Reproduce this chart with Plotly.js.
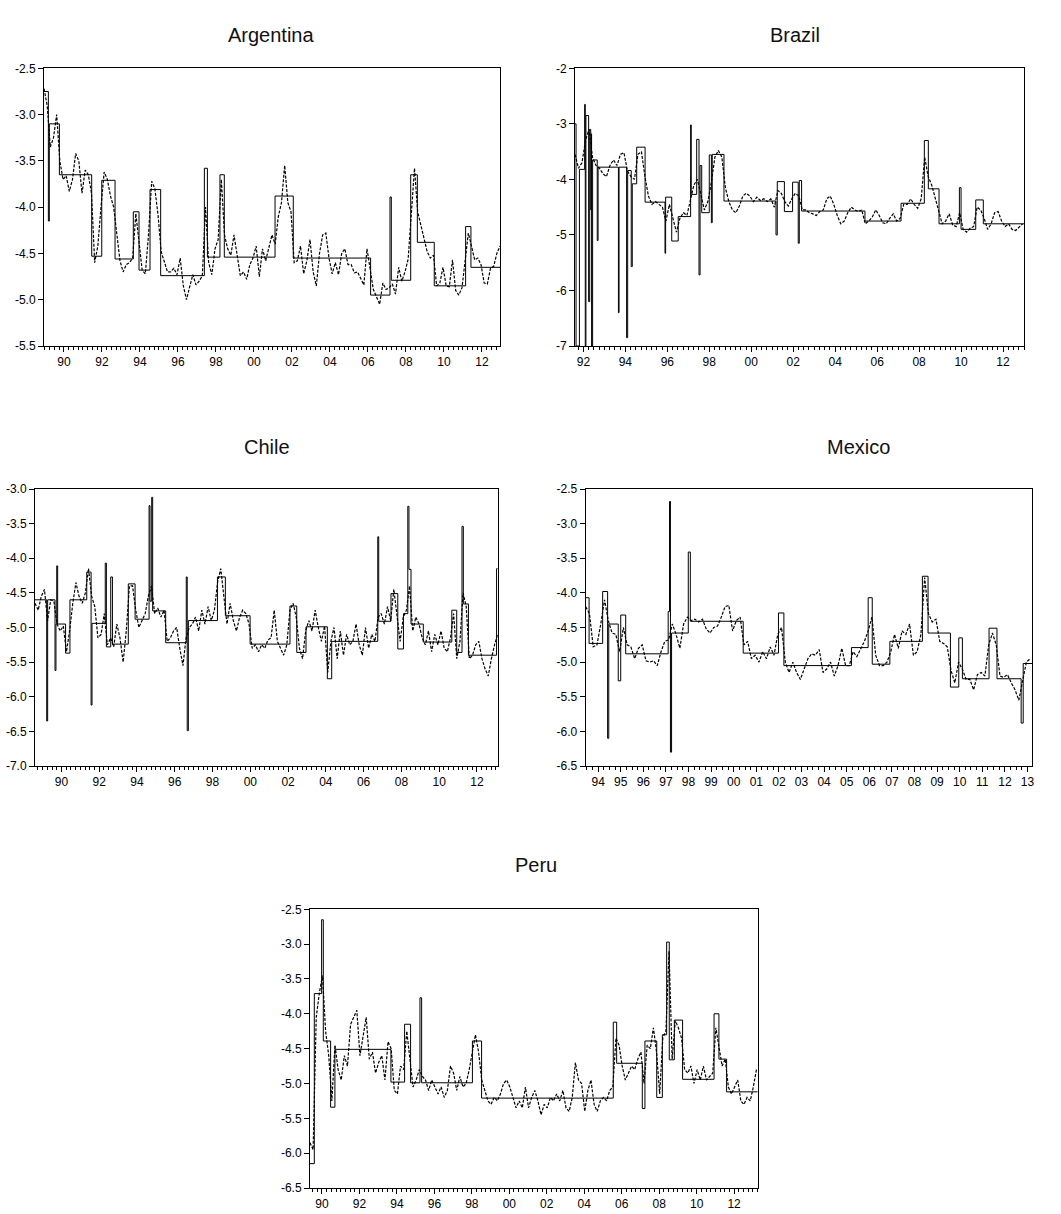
<!DOCTYPE html>
<html><head><meta charset="utf-8">
<script src="https://cdn.plot.ly/plotly-3.0.1.min.js"></script>
<style>body{margin:0;background:#fff}#chart{width:1061px;height:1214px}</style>
</head><body><div id="chart"></div>
<script>
// ---------- DATA ----------
const DATA_STEP = 1/6; // bi-monthly sampling of the observed (dashed) series, in years

// Argentina
const argStart = 1988.95;
const argVals = [-2.72,-2.90,-3.35,-3.25,-3.00,-3.50,-3.70,-3.66,-3.83,-3.70,
-3.42,-3.50,-3.85,-3.60,-3.65,-3.85,-4.60,-4.42,-4.00,-3.62,
-3.70,-3.88,-4.00,-4.30,-4.58,-4.70,-4.62,-4.60,-4.55,-4.07,
-4.35,-4.68,-4.72,-4.30,-3.72,-3.80,-4.08,-4.48,-4.59,-4.70,
-4.70,-4.66,-4.73,-4.55,-4.85,-5.00,-4.86,-4.73,-4.84,-4.80,
-4.74,-4.00,-4.60,-4.73,-4.45,-4.35,-3.70,-4.30,-4.45,-4.52,
-4.30,-4.54,-4.74,-4.70,-4.78,-4.62,-4.55,-4.42,-4.75,-4.45,
-4.58,-4.44,-4.30,-4.40,-4.10,-3.95,-3.55,-3.95,-4.05,-4.60,
-4.58,-4.42,-4.72,-4.58,-4.35,-4.70,-4.85,-4.50,-4.30,-4.28,
-4.55,-4.72,-4.60,-4.73,-4.50,-4.45,-4.62,-4.62,-4.71,-4.70,
-4.77,-4.84,-4.45,-4.70,-4.89,-4.97,-5.05,-4.82,-4.89,-4.87,
-4.83,-4.94,-4.65,-4.80,-4.70,-4.56,-4.10,-3.58,-4.05,-4.20,
-4.36,-4.48,-4.55,-4.52,-4.85,-4.82,-4.65,-4.85,-4.86,-4.57,
-4.90,-4.95,-4.87,-4.55,-4.28,-4.42,-4.57,-4.55,-4.62,-4.82,
-4.83,-4.66,-4.64,-4.50,-4.42];
const argStepX = [1988.95,1989.18,1989.23,1989.76,1991.46,1991.99,1992.69,1993.65,1993.95,1994.53,1995.09,1997.39,1997.55,1998.21,1998.44,2001.11,2002.07,2006.14,2007.16,2007.23,2008.25,2008.60,2009.49,2011.14,2011.42,2012.95];
const argStepY = [-2.75,-4.15,-3.10,-3.65,-4.53,-3.71,-4.56,-4.05,-4.68,-3.81,-4.74,-3.58,-4.54,-3.65,-4.54,-3.88,-4.55,-4.95,-3.89,-4.79,-3.65,-4.38,-4.85,-4.21,-4.65,-4.65];

// Brazil
const brStart = 1991.6;
const brVals = [-3.55,-3.80,-3.70,-3.30,-3.10,-3.60,-3.75,-3.80,-3.90,-3.95,
-3.75,-3.65,-3.75,-3.55,-3.52,-3.85,-3.95,-4.00,-3.55,-3.50,
-3.95,-4.30,-4.45,-4.40,-4.45,-4.50,-4.75,-4.45,-4.70,-4.95,
-4.70,-4.60,-4.65,-4.40,-4.10,-4.00,-4.30,-4.55,-4.40,-4.05,
-3.60,-3.48,-3.60,-4.15,-4.40,-4.55,-4.60,-4.48,-4.30,-4.25,
-4.30,-4.40,-4.32,-4.38,-4.35,-4.40,-4.35,-4.50,-4.20,-4.25,
-4.40,-4.48,-4.35,-4.25,-4.30,-4.55,-4.55,-4.60,-4.62,-4.65,
-4.58,-4.55,-4.35,-4.30,-4.45,-4.65,-4.80,-4.75,-4.60,-4.50,
-4.55,-4.58,-4.55,-4.80,-4.75,-4.68,-4.55,-4.65,-4.78,-4.80,
-4.70,-4.62,-4.75,-4.70,-4.45,-4.45,-4.35,-4.45,-4.52,-4.35,
-3.60,-3.95,-4.10,-4.35,-4.60,-4.80,-4.75,-4.62,-4.82,-4.85,
-4.60,-4.90,-4.95,-4.88,-4.85,-4.50,-4.55,-4.70,-4.90,-4.80,
-4.60,-4.58,-4.75,-4.85,-4.80,-4.90,-4.92,-4.85,-4.80];
const brStepX = [1991.60,1991.65,1991.81,1992.06,1992.09,1992.12,1992.25,1992.30,1992.35,1992.38,1992.39,1992.44,1992.66,1992.70,1993.67,1993.70,1994.06,1994.11,1994.28,1994.33,1994.54,1994.94,1995.89,1995.92,1996.21,1996.52,1997.11,1997.14,1997.40,1997.51,1997.56,1997.64,1998.00,1998.10,1998.14,1998.70,2001.18,2001.24,2001.58,2001.97,2002.24,2002.29,2002.40,2005.42,2007.14,2008.25,2008.44,2008.95,2009.92,2010.00,2010.70,2011.06,2013.00];
const brStepY = [-3.00,-7.00,-3.82,-2.65,-7.00,-2.85,-6.20,-3.10,-4.55,-3.18,-7.00,-3.65,-5.10,-3.78,-6.40,-3.78,-6.85,-3.84,-5.57,-4.08,-3.42,-4.41,-5.33,-4.32,-5.11,-4.67,-3.02,-4.27,-3.28,-5.72,-3.75,-4.60,-3.56,-4.78,-3.55,-4.39,-5.00,-4.04,-4.58,-4.05,-5.15,-4.02,-4.57,-4.75,-4.43,-3.30,-4.17,-4.80,-4.15,-4.90,-4.37,-4.80,-4.80];

// Chile
const chStart = 1988.6;
const chVals = [-4.65,-4.75,-4.55,-4.45,-4.90,-4.60,-4.62,-4.95,-5.05,-4.98,
-5.35,-5.05,-4.65,-4.35,-4.55,-4.65,-4.50,-4.15,-4.55,-4.70,
-5.15,-5.10,-4.80,-5.25,-5.15,-5.28,-4.95,-5.15,-5.50,-5.05,
-4.40,-4.40,-4.75,-5.00,-4.90,-4.80,-4.55,-4.40,-4.80,-4.72,
-4.85,-4.75,-5.20,-5.15,-5.05,-5.00,-5.30,-5.55,-5.15,-5.00,
-4.95,-4.85,-5.05,-4.75,-4.95,-4.70,-4.90,-4.75,-4.35,-4.15,
-4.55,-4.95,-4.65,-4.90,-5.05,-4.85,-4.75,-4.80,-4.95,-5.30,
-5.25,-5.35,-5.25,-5.30,-5.18,-5.15,-4.75,-5.20,-5.30,-5.40,
-5.25,-4.75,-4.65,-4.85,-5.30,-5.45,-5.05,-4.90,-5.05,-4.75,
-5.00,-5.20,-4.98,-5.65,-5.20,-5.00,-5.45,-5.05,-5.40,-5.10,
-5.25,-5.20,-4.95,-5.25,-5.40,-5.00,-5.30,-5.10,-5.20,-4.85,
-4.80,-4.95,-4.70,-4.90,-4.45,-4.85,-5.20,-4.85,-4.75,-4.40,
-5.05,-4.85,-4.95,-5.15,-5.25,-5.05,-5.35,-5.10,-5.25,-5.05,
-5.30,-5.35,-5.15,-4.80,-5.45,-5.20,-4.50,-4.70,-5.45,-5.40,
-5.25,-5.20,-5.45,-5.60,-5.70,-5.45,-5.25,-5.10];
const chStepX = [1988.60,1989.22,1989.27,1989.66,1989.71,1989.75,1989.80,1990.22,1990.45,1991.34,1991.57,1991.62,1992.32,1992.38,1992.61,1992.70,1993.54,1993.90,1994.64,1994.69,1994.78,1994.83,1995.52,1996.61,1996.66,1996.72,1998.26,1998.68,1999.99,2002.10,2002.46,2002.95,2004.08,2004.31,2006.75,2006.80,2007.45,2007.81,2008.11,2008.34,2008.40,2008.51,2009.16,2010.67,2010.93,2011.21,2011.28,2011.55,2013.04,2013.10];
const chStepY = [-4.60,-6.35,-4.60,-5.62,-4.95,-4.11,-4.95,-5.37,-4.60,-4.20,-6.12,-4.94,-4.07,-5.28,-4.27,-5.24,-4.37,-4.88,-3.24,-4.62,-3.12,-4.76,-5.22,-4.27,-6.49,-4.90,-4.27,-4.83,-5.24,-4.69,-5.36,-4.99,-5.74,-5.20,-3.69,-4.91,-4.51,-5.31,-4.80,-3.25,-4.16,-4.95,-5.21,-4.75,-5.36,-3.54,-4.66,-5.40,-4.15,-4.15];

// Mexico
const mxStart = 1993.45;
const mxVals = [-4.20,-4.30,-4.78,-4.75,-4.45,-4.10,-4.40,-4.58,-4.60,-4.85,
-4.50,-4.75,-4.78,-4.95,-4.80,-4.75,-4.98,-5.00,-4.98,-5.05,
-4.85,-4.70,-4.68,-4.45,-4.60,-4.80,-4.45,-4.35,-4.40,-4.38,
-4.42,-4.38,-4.52,-4.58,-4.50,-4.48,-4.35,-4.20,-4.18,-4.55,
-4.40,-4.35,-4.75,-4.70,-4.95,-4.90,-5.00,-4.85,-4.95,-4.78,
-4.90,-4.60,-4.50,-5.00,-5.15,-5.00,-5.15,-5.25,-5.10,-4.95,
-4.88,-4.90,-4.82,-5.15,-5.10,-5.00,-5.20,-5.05,-4.80,-5.05,
-5.05,-4.85,-4.92,-4.80,-4.70,-4.55,-4.35,-4.90,-5.05,-5.05,
-5.00,-4.85,-4.60,-4.80,-4.55,-4.60,-4.45,-4.90,-4.85,-4.60,
-3.78,-4.30,-4.42,-4.38,-4.70,-4.73,-4.78,-5.12,-5.30,-5.00,
-5.10,-5.25,-5.25,-5.40,-5.18,-5.15,-5.20,-4.75,-4.58,-4.75,
-5.20,-5.22,-5.18,-5.30,-5.40,-5.55,-5.25,-5.00,-4.95];
const mxStepX = [1993.45,1993.60,1994.20,1994.42,1994.47,1994.89,1995.00,1995.22,1997.10,1997.16,1997.20,1997.25,1997.99,1998.08,2000.42,2001.98,2002.22,2005.21,2005.95,2006.13,2006.91,2008.35,2008.60,2009.59,2009.96,2010.12,2011.30,2011.65,2012.72,2012.81,2013.20];
const mxStepY = [-4.07,-4.73,-3.98,-6.10,-4.45,-5.27,-4.32,-4.88,-4.27,-2.68,-6.30,-4.58,-3.41,-4.41,-4.87,-4.29,-5.05,-4.79,-4.07,-5.03,-4.70,-3.76,-4.58,-5.36,-4.65,-5.24,-4.51,-5.24,-5.88,-5.02,-5.02];

// Peru
const peStart = 1989.36;
const peVals = [-5.85,-5.95,-4.05,-3.70,-3.45,-4.25,-4.60,-5.25,-4.45,-4.80,
-4.95,-4.60,-4.75,-4.15,-4.05,-3.95,-4.60,-4.35,-4.05,-4.65,
-4.55,-4.85,-4.70,-4.60,-4.95,-4.40,-4.50,-5.10,-5.15,-4.75,
-4.80,-4.25,-4.70,-5.05,-4.95,-4.80,-4.90,-4.95,-5.10,-4.95,
-5.05,-5.15,-5.05,-5.20,-5.10,-4.75,-4.85,-5.10,-4.90,-5.05,
-5.00,-4.80,-4.55,-4.30,-4.55,-4.95,-5.10,-5.25,-5.30,-5.20,
-5.25,-5.15,-5.00,-4.95,-5.05,-5.20,-5.35,-5.25,-5.35,-5.05,
-5.35,-5.20,-5.10,-5.25,-5.45,-5.30,-5.35,-5.20,-5.25,-5.15,
-5.25,-5.10,-5.35,-5.40,-5.20,-4.70,-4.95,-5.00,-5.40,-5.10,
-4.95,-5.30,-5.40,-5.25,-5.20,-5.25,-5.10,-5.05,-4.35,-4.45,
-4.75,-4.95,-4.85,-4.75,-4.80,-4.65,-4.55,-5.00,-4.45,-4.50,
-4.20,-4.55,-5.15,-4.35,-4.25,-3.10,-4.65,-4.10,-4.20,-4.35,
-4.80,-4.85,-4.75,-5.00,-4.80,-4.95,-4.75,-4.95,-4.90,-4.85,
-4.20,-4.50,-4.75,-4.65,-5.05,-5.15,-5.05,-4.95,-5.25,-5.30,
-5.20,-5.25,-5.05,-4.80];
const peStepX = [1989.36,1989.59,1989.98,1990.07,1990.46,1990.69,1993.68,1994.41,1994.73,1995.23,1995.32,1998.03,1998.52,2005.55,2005.73,2007.10,2007.24,2007.87,2008.17,2008.40,2008.54,2008.81,2009.25,2010.93,2011.19,2011.60,2013.26];
const peStepY = [-6.15,-3.71,-2.65,-4.39,-5.34,-4.51,-4.98,-4.15,-4.99,-3.77,-4.99,-4.39,-5.21,-4.12,-4.71,-5.36,-4.39,-5.20,-4.30,-2.97,-4.66,-4.09,-4.94,-4.00,-4.65,-5.12,-5.12];

// Tick labels
const evenYears = [1990,1992,1994,1996,1998,2000,2002,2004,2006,2008,2010,2012];
const evenYearText = ['90','92','94','96','98','00','02','04','06','08','10','12'];
const mxYears = [1994,1995,1996,1997,1998,1999,2000,2001,2002,2003,2004,2005,2006,2007,2008,2009,2010,2011,2012,2013];
const mxYearText = ['94','95','96','97','98','99','00','01','02','03','04','05','06','07','08','09','10','11','12','13'];
const argYTicks = [-5.5,-5.0,-4.5,-4.0,-3.5,-3.0,-2.5];
const argYText = ['-5.5','-5.0','-4.5','-4.0','-3.5','-3.0','-2.5'];
const brYTicks = [-7,-6,-5,-4,-3,-2];
const brYText = ['-7','-6','-5','-4','-3','-2'];
const chYTicks = [-7.0,-6.5,-6.0,-5.5,-5.0,-4.5,-4.0,-3.5,-3.0];
const chYText = ['-7.0','-6.5','-6.0','-5.5','-5.0','-4.5','-4.0','-3.5','-3.0'];
const mxYTicks = [-6.5,-6.0,-5.5,-5.0,-4.5,-4.0,-3.5,-3.0,-2.5];
const mxYText = ['-6.5','-6.0','-5.5','-5.0','-4.5','-4.0','-3.5','-3.0','-2.5'];
const peYTicks = mxYTicks;
const peYText = mxYText;

// ---------- LAYOUT / DRAWING ----------
const W = 1061, H = 1214;
const panels = [
  {title:'Argentina', start:argStart, vals:argVals, sx:argStepX, sy:argStepY,
   xr:[1988.95,2012.95], yr:[-5.5,-2.5], xt:evenYears, xtt:evenYearText, yt:argYTicks, ytt:argYText,
   box:[44,500,68.3,346], tpos:[271,35]},
  {title:'Brazil', start:brStart, vals:brVals, sx:brStepX, sy:brStepY,
   xr:[1991.6,2013.0], yr:[-7,-2], xt:evenYears, xtt:evenYearText, yt:brYTicks, ytt:brYText,
   box:[575,1024,68.3,346], tpos:[795,35]},
  {title:'Chile', start:chStart, vals:chVals, sx:chStepX, sy:chStepY,
   xr:[1988.6,2013.1], yr:[-7,-3], xt:evenYears, xtt:evenYearText, yt:chYTicks, ytt:chYText,
   box:[35,497.7,489,766], tpos:[267,447]},
  {title:'Mexico', start:mxStart, vals:mxVals, sx:mxStepX, sy:mxStepY,
   xr:[1993.45,2013.2], yr:[-6.5,-2.5], xt:mxYears, xtt:mxYearText, yt:mxYTicks, ytt:mxYText,
   box:[585.7,1032,489,766], tpos:[858,447]},
  {title:'Peru', start:peStart, vals:peVals, sx:peStepX, sy:peStepY,
   xr:[1989.36,2013.26], yr:[-6.5,-2.5], xt:evenYears, xtt:evenYearText, yt:peYTicks, ytt:peYText,
   box:[310,757.7,909.3,1188], tpos:[536,865]}
];

const traces = [];
const layout = {
  width: W, height: H, margin:{l:0,r:0,t:0,b:0},
  paper_bgcolor:'#fff', plot_bgcolor:'#fff', showlegend:false,
  font:{family:'"Liberation Sans", Arial, sans-serif', size:12, color:'#000'},
  annotations: []
};

panels.forEach((p, k) => {
  const n = k + 1;
  const xa = n === 1 ? 'x' : 'x' + n;
  const ya = n === 1 ? 'y' : 'y' + n;
  const xs = p.vals.map((_, i) => p.start + i * DATA_STEP);
  traces.push({type:'scatter', mode:'lines', x:xs, y:p.vals, xaxis:xa, yaxis:ya,
    line:{color:'#000', width:1.2, dash:'3px,1.5px'}, hoverinfo:'skip'});
  traces.push({type:'scatter', mode:'lines', x:p.sx, y:p.sy, xaxis:xa, yaxis:ya,
    line:{color:'#000', width:1, shape:'hv'}, hoverinfo:'skip'});
  const [l, r, t, b] = p.box;
  layout['xaxis' + (n === 1 ? '' : n)] = {
    domain:[l / W, r / W], range:p.xr, anchor:ya,
    showline:true, mirror:true, linecolor:'#000', linewidth:1,
    ticks:'outside', ticklen:5, tickcolor:'#000', tickwidth:1,
    tickmode:'array', tickvals:p.xt, ticktext:p.xtt,
    tickfont:{size:12, color:'#000'},
    minor:{dtick:0.25, tick0:1990, ticks:'outside', ticklen:3, tickcolor:'#000', tickwidth:1, showgrid:false},
    showgrid:false, zeroline:false, fixedrange:true
  };
  layout['yaxis' + (n === 1 ? '' : n)] = {
    domain:[1 - b / H, 1 - t / H], range:p.yr, anchor:xa,
    showline:true, mirror:true, linecolor:'#000', linewidth:1,
    ticks:'outside', ticklen:5, tickcolor:'#000', tickwidth:1,
    tickmode:'array', tickvals:p.yt, ticktext:p.ytt,
    tickfont:{size:12, color:'#000'},
    showgrid:false, zeroline:false, fixedrange:true
  };
  layout.annotations.push({
    text:p.title, xref:'paper', yref:'paper',
    x:p.tpos[0] / W, y:1 - p.tpos[1] / H, xanchor:'center', yanchor:'middle',
    showarrow:false, font:{size:20, color:'#111'}
  });
});

Plotly.newPlot('chart', traces, layout, {staticPlot:true, displayModeBar:false});
</script>
</body></html>
